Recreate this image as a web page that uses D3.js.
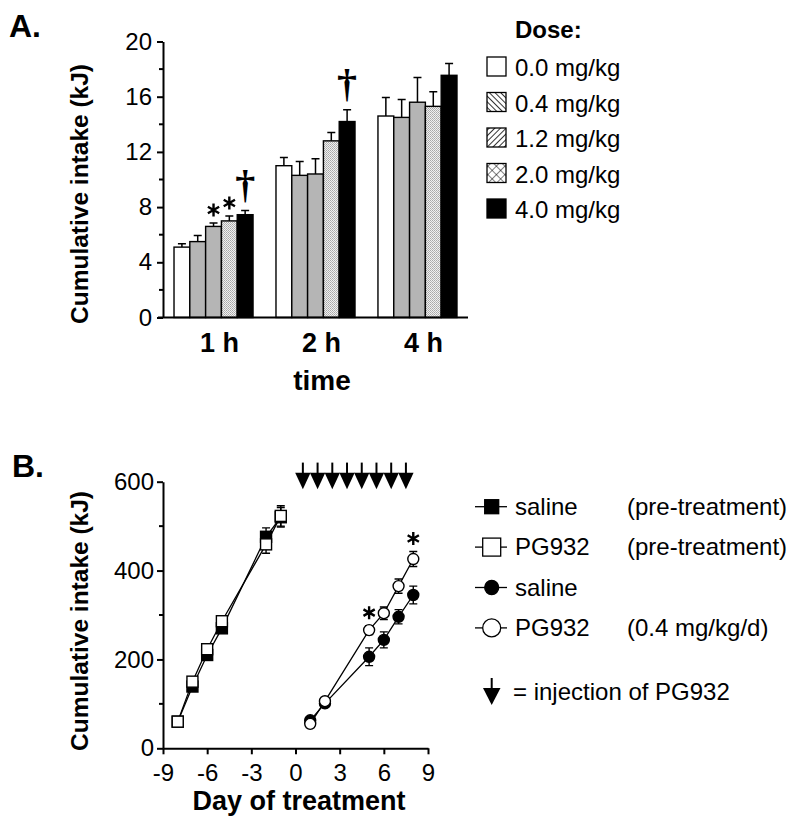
<!DOCTYPE html>
<html><head><meta charset="utf-8">
<script src="https://cdn.jsdelivr.net/npm/d3@7"></script>
<style>body{margin:0;background:#fff}svg{display:block;font-family:"Liberation Sans",Arial,sans-serif}</style>
</head><body><svg id="c" width="800" height="827"></svg>
<script>
// ---------- Panel A data ----------
const timeGroups = ["1 h", "2 h", "4 h"];
const doseLabels = ["0.0 mg/kg", "0.4 mg/kg", "1.2 mg/kg", "2.0 mg/kg", "4.0 mg/kg"];
const dose00 = [5.1, 11.0, 14.6];
const dose04 = [5.5, 10.3, 14.5];
const dose12 = [6.6, 10.4, 15.6];
const dose20 = [7.0, 12.8, 15.3];
const dose40 = [7.45, 14.2, 17.55];
const dose00Err = [0.25, 0.6, 1.35];
const dose04Err = [0.45, 1.0, 1.3];
const dose12Err = [0.25, 1.1, 1.8];
const dose20Err = [0.35, 0.6, 1.05];
const dose40Err = [0.3, 0.85, 0.85];
const yTicksA = [0, 4, 8, 12, 16, 20];
const yMinorA = [2, 6, 10, 14, 18];
const starMarksA = [["1 h", 2], ["1 h", 3]];
const daggerMarksA = [["1 h", 4], ["2 h", 4]];

// ---------- Panel B data ----------
const preDays = [-8, -7, -6, -5, -2, -1];
const preSaline = [60, 139, 210, 270, 476, 520];
const preSalineErr = [5, 8, 8, 10, 20, 22];
const prePG = [60, 150, 223, 286, 459, 523];
const prePGErr = [5, 8, 8, 10, 20, 23];
const treatDays = [1, 2, 5, 6, 7, 8];
const treatSaline = [63, 101, 206, 244, 296, 345];
const treatSalineErr = [5, 8, 20, 18, 16, 20];
const treatPG = [55, 106, 266, 304, 365, 426];
const treatPGErr = [5, 6, 10, 14, 16, 17];
const injectionDays = [0.5, 1.5, 2.5, 3.5, 4.5, 5.5, 6.5, 7.5];
const starDaysB = [5, 8];
const xTicksB = [-9, -6, -3, 0, 3, 6, 9];
const yTicksB = [0, 200, 400, 600];
const yMinorB = [100, 300, 500];
const legendB = [
  ["saline", "(pre-treatment)"],
  ["PG932", "(pre-treatment)"],
  ["saline", ""],
  ["PG932", "(0.4 mg/kg/d)"]
];

const svg = d3.select("#c");
const defs = svg.append("defs");

// patterns
function hatch(id, angle, spacing, sw) {
  const p = defs.append("pattern").attr("id", id).attr("patternUnits", "userSpaceOnUse")
    .attr("width", spacing).attr("height", spacing).attr("patternTransform", `rotate(${angle})`);
  p.append("rect").attr("width", spacing).attr("height", spacing).attr("fill", "#fff");
  p.append("line").attr("x1", 0).attr("y1", 0).attr("x2", 0).attr("y2", spacing)
    .attr("stroke", "#000").attr("stroke-width", sw);
}
hatch("hatchBack", -45, 4, 1.6);
hatch("hatchFwd", 45, 4, 1.6);
(function () {
  const p = defs.append("pattern").attr("id", "cross").attr("patternUnits", "userSpaceOnUse")
    .attr("width", 6).attr("height", 6).attr("patternTransform", "rotate(45)");
  p.append("rect").attr("width", 6).attr("height", 6).attr("fill", "#fff");
  p.append("line").attr("x1", 0).attr("y1", 0).attr("x2", 0).attr("y2", 6).attr("stroke", "#000").attr("stroke-width", 1);
  p.append("line").attr("x1", 0).attr("y1", 0).attr("x2", 6).attr("y2", 0).attr("stroke", "#000").attr("stroke-width", 1);
  const d = defs.append("pattern").attr("id", "dots").attr("patternUnits", "userSpaceOnUse")
    .attr("width", 2).attr("height", 2);
  d.append("rect").attr("width", 2).attr("height", 2).attr("fill", "#f0f0f0");
  d.append("rect").attr("width", 1).attr("height", 1).attr("fill", "#a8a8a8");
  d.append("rect").attr("x", 1).attr("y", 1).attr("width", 1).attr("height", 1).attr("fill", "#b8b8b8");
})();

// ================= PANEL A =================
const yA = d3.scaleLinear().domain([0, 20]).range([317.5, 41.5]);
const x0 = d3.scaleBand().domain(timeGroups).range([163, 468]).paddingInner(0.225).paddingOuter(0.108);
const x1 = d3.scaleBand().domain(doseLabels).range([0, x0.bandwidth()]);
const doseMeans = [dose00, dose04, dose12, dose20, dose40];
const doseErrs = [dose00Err, dose04Err, dose12Err, dose20Err, dose40Err];
const barFills = ["#fff", "#b5b5b5", "#b5b5b5", "url(#dots)", "#000"];
const swatchFills = ["#fff", "url(#hatchBack)", "url(#hatchFwd)", "url(#cross)", "#000"];

svg.append("text").attr("x", 9).attr("y", 37).attr("font-size", 32).attr("font-weight", "bold").text("A.");

const gA = svg.append("g");
const barData = [];
timeGroups.forEach((g, gi) => doseLabels.forEach((d, di) => {
  barData.push({ g, d, di, v: doseMeans[di][gi], e: doseErrs[di][gi] });
}));
const cx = b => x0(b.g) + x1(b.d) + x1.bandwidth() / 2;

// error bars (upper only)
gA.selectAll(".eb").data(barData).join("path")
  .attr("d", b => `M${cx(b)},${yA(b.v)}V${yA(b.v + b.e)}M${cx(b) - 4},${yA(b.v + b.e)}H${cx(b) + 4}`)
  .attr("stroke", "#000").attr("stroke-width", 1.5).attr("fill", "none");
gA.selectAll(".bar").data(barData).join("rect")
  .attr("x", b => x0(b.g) + x1(b.d)).attr("y", b => yA(b.v))
  .attr("width", x1.bandwidth()).attr("height", b => yA(0) - yA(b.v))
  .attr("fill", b => barFills[b.di]).attr("stroke", "#000").attr("stroke-width", 1.4);

// y axis
const axA = gA.append("g").attr("transform", "translate(163,0)")
  .call(d3.axisLeft(yA).tickValues(yTicksA).tickSize(6).tickSizeOuter(0).tickPadding(5));
axA.select(".domain").attr("stroke-width", 2);
axA.selectAll(".tick line").attr("stroke-width", 2);
axA.selectAll(".tick text").attr("font-size", 24).attr("font-family", "Liberation Sans, Arial, sans-serif").attr("fill", "#000");
gA.selectAll(".mtA").data(yMinorA).join("line")
  .attr("x1", 159).attr("x2", 163).attr("y1", d => yA(d)).attr("y2", d => yA(d))
  .attr("stroke", "#000").attr("stroke-width", 2);
// x axis line
gA.append("line").attr("x1", 158).attr("x2", 468).attr("y1", yA(0)).attr("y2", yA(0))
  .attr("stroke", "#000").attr("stroke-width", 2.2);
gA.selectAll(".gl").data(timeGroups).join("text")
  .attr("x", g => x0(g) + x0.bandwidth() / 2 + 6).attr("y", 352)
  .attr("text-anchor", "middle").attr("font-size", 27).attr("font-weight", "bold").text(g => g);
gA.append("text").attr("x", 322).attr("y", 390).attr("text-anchor", "middle")
  .attr("font-size", 28).attr("font-weight", "bold").text("time");
gA.append("text").attr("transform", "translate(88,194) rotate(-90)").attr("text-anchor", "middle")
  .attr("font-size", 24.5).attr("font-weight", "bold").text("Cumulative intake (kJ)");

function asterisk(g, x, y, r) {
  let d = "";
  [90, 30, -30].forEach(a => {
    const t = a * Math.PI / 180, dx = r * Math.cos(t), dy = r * Math.sin(t);
    d += `M${x - dx},${y - dy}L${x + dx},${y + dy}`;
  });
  g.append("path").attr("d", d).attr("stroke", "#000").attr("stroke-width", 2.4).attr("fill", "none");
}
starMarksA.forEach(([g, di]) => {
  const gi = timeGroups.indexOf(g);
  const top = yA(doseMeans[di][gi] + doseErrs[di][gi]);
  asterisk(gA, x0(g) + x1(doseLabels[di]) + x1.bandwidth() / 2, top - 13, 6.5);
});
daggerMarksA.forEach(([g, di]) => {
  const gi = timeGroups.indexOf(g);
  const top = yA(doseMeans[di][gi] + doseErrs[di][gi]);
  gA.append("text").attr("x", x0(g) + x1(doseLabels[di]) + x1.bandwidth() / 2).attr("y", top - 13)
    .attr("text-anchor", "middle").attr("font-family", "Liberation Serif, Times New Roman, serif")
    .attr("font-weight", "bold").attr("font-size", 40).text("\u2020");
});

// legend A
const lgA = svg.append("g");
lgA.append("text").attr("x", 515).attr("y", 38).attr("font-size", 24).attr("font-weight", "bold").text("Dose:");
doseLabels.forEach((d, i) => {
  const base = 76 + i * 35.5;
  lgA.append("rect").attr("x", 487).attr("y", base - 19).attr("width", 19).attr("height", 19)
    .attr("fill", swatchFills[i]).attr("stroke", "#000").attr("stroke-width", 1.3);
  lgA.append("text").attr("x", 515).attr("y", base).attr("font-size", 24).text(d);
});

// ================= PANEL B =================
const xB = d3.scaleLinear().domain([-9, 9]).range([163, 428]);
const yB = d3.scaleLinear().domain([0, 600]).range([748.3, 481.7]);
svg.append("text").attr("x", 12).attr("y", 477).attr("font-size", 32).attr("font-weight", "bold").text("B.");
const gB = svg.append("g");

const axBy = gB.append("g").attr("transform", "translate(163,0)")
  .call(d3.axisLeft(yB).tickValues(yTicksB).tickSize(6).tickSizeOuter(0).tickPadding(3));
const axBx = gB.append("g").attr("transform", `translate(0,${yB(0)})`)
  .call(d3.axisBottom(xB).tickValues(xTicksB).tickSize(6).tickSizeOuter(0).tickPadding(10)
    .tickFormat(d => d < 0 ? "-" + Math.abs(d) : d));
[axBy, axBx].forEach(a => {
  a.select(".domain").attr("stroke-width", 2);
  a.selectAll(".tick line").attr("stroke-width", 2);
  a.selectAll(".tick text").attr("font-size", 24).attr("font-family", "Liberation Sans, Arial, sans-serif").attr("fill", "#000");
});
gB.selectAll(".mtB").data(yMinorB).join("line")
  .attr("x1", 159).attr("x2", 163).attr("y1", d => yB(d)).attr("y2", d => yB(d))
  .attr("stroke", "#000").attr("stroke-width", 2);
gB.append("text").attr("x", 299).attr("y", 810).attr("text-anchor", "middle")
  .attr("font-size", 27).attr("font-weight", "bold").text("Day of treatment");
gB.append("text").attr("transform", "translate(88,621) rotate(-90)").attr("text-anchor", "middle")
  .attr("font-size", 24.5).attr("font-weight", "bold").text("Cumulative intake (kJ)");

const line = d3.line().x(d => xB(d[0])).y(d => yB(d[1]));
const series = [
  { days: preDays, v: preSaline, e: preSalineErr, shape: "square", fill: "#000" },
  { days: preDays, v: prePG, e: prePGErr, shape: "square", fill: "#fff" },
  { days: treatDays, v: treatSaline, e: treatSalineErr, shape: "circle", fill: "#000" },
  { days: treatDays, v: treatPG, e: treatPGErr, shape: "circle", fill: "#fff" }
];
series.forEach(s => {
  const pts = s.days.map((d, i) => [d, s.v[i], s.e[i]]);
  gB.append("path").attr("d", line(pts)).attr("fill", "none").attr("stroke", "#000").attr("stroke-width", 1.3);
  gB.selectAll(null).data(pts).join("path")
    .attr("d", p => {
      const x = xB(p[0]), y1 = yB(p[1] - p[2]), y2 = yB(p[1] + p[2]);
      return `M${x},${y1}V${y2}M${x - 4},${y1}H${x + 4}M${x - 4},${y2}H${x + 4}`;
    })
    .attr("stroke", "#000").attr("stroke-width", 1.4).attr("fill", "none");
});
series.forEach(s => {
  const pts = s.days.map((d, i) => [d, s.v[i]]);
  if (s.shape === "square") {
    gB.selectAll(null).data(pts).join("rect")
      .attr("x", p => xB(p[0]) - 5.5).attr("y", p => yB(p[1]) - 5.5).attr("width", 11).attr("height", 11)
      .attr("fill", s.fill).attr("stroke", "#000").attr("stroke-width", 1.4);
  } else {
    gB.selectAll(null).data(pts).join("circle")
      .attr("cx", p => xB(p[0])).attr("cy", p => yB(p[1])).attr("r", 5.5)
      .attr("fill", s.fill).attr("stroke", "#000").attr("stroke-width", 1.4);
  }
});
starDaysB.forEach(d => {
  const i = treatDays.indexOf(d);
  asterisk(gB, xB(d), yB(treatPG[i] + treatPGErr[i]) - 13, 6.5);
});

// injection arrows
const arrowTop = yB(643), triTop = yB(620), tip = yB(583);
const half = (xB(1) - xB(0)) / 2 + 0.3;
injectionDays.forEach(d => {
  const x = xB(d);
  gB.append("line").attr("x1", x).attr("x2", x).attr("y1", arrowTop).attr("y2", triTop + 1)
    .attr("stroke", "#000").attr("stroke-width", 2);
  gB.append("path").attr("d", `M${x - half},${triTop}L${x + half},${triTop}L${x},${tip}Z`).attr("fill", "#000");
});

// legend B
const lgB = svg.append("g");
const legSize = [14, 18, 14, 18];
legendB.forEach((r, i) => {
  const base = 515 + i * 40.4, cy = base - 8.3, s = series[i], sz = legSize[i];
  lgB.append("line").attr("x1", 475).attr("x2", 507).attr("y1", cy).attr("y2", cy).attr("stroke", "#000").attr("stroke-width", 1.3);
  if (s.shape === "square") {
    lgB.append("rect").attr("x", 491.7 - sz / 2).attr("y", cy - sz / 2).attr("width", sz).attr("height", sz)
      .attr("fill", s.fill).attr("stroke", "#000").attr("stroke-width", 1.3);
  } else {
    lgB.append("circle").attr("cx", 491.7).attr("cy", cy).attr("r", sz / 2)
      .attr("fill", s.fill).attr("stroke", "#000").attr("stroke-width", 1.3);
  }
  lgB.append("text").attr("x", 515).attr("y", base).attr("font-size", 24).text(r[0]);
  if (r[1]) lgB.append("text").attr("x", 627).attr("y", base).attr("font-size", 24).text(r[1]);
});
lgB.append("line").attr("x1", 491.7).attr("x2", 491.7).attr("y1", 678).attr("y2", 690).attr("stroke", "#000").attr("stroke-width", 2);
lgB.append("path").attr("d", "M483,688L500.5,688L491.7,705Z").attr("fill", "#000");
lgB.append("text").attr("x", 513).attr("y", 700).attr("font-size", 24).text("= injection of PG932");
</script></body></html>
